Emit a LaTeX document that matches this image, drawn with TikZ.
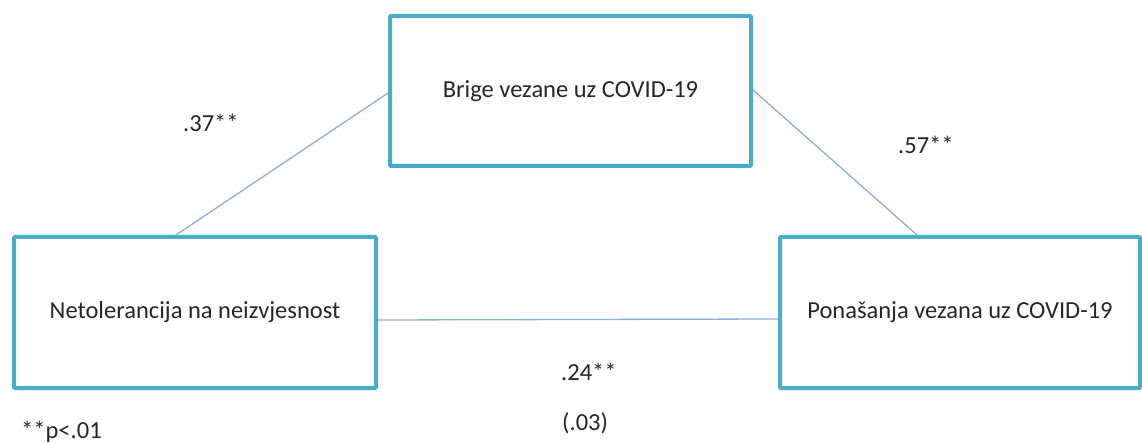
\documentclass[tikz,border=0pt]{standalone}
\usepackage{fontspec}
\setmainfont{Carlito}
\definecolor{boxblue}{HTML}{4BACC6}
\definecolor{linkblue}{HTML}{8EAFDB}
\tikzset{
	var/.style={draw=boxblue, line width=4pt, rectangle, rounded corners=1pt, font=\fontsize{24.5}{29}\selectfont, text=black!85},
	link/.style={draw=linkblue, line width=1.3pt},
	coef/.style={font=\fontsize{24.5}{29}\selectfont, text=black!85, anchor=west, inner sep=0pt}
}

\begin{document}
\begin{tikzpicture}[x=1pt, y=-1pt]
			%%%%% START %%%%%
			\useasboundingbox (0, 0) rectangle (1142, 443);
			
			\node[var, minimum width=361pt, minimum height=150pt] (brige) at (570.5, 91) {Brige vezane uz COVID-19};
			\node[var, minimum width=362pt, minimum height=151pt] (netol) at (195, 312.5) {Netolerancija na neizvjesnost};
			\node[var, minimum width=360pt, minimum height=151pt] (ponas) at (960, 312.5) {Ponašanja vezana uz COVID-19};
			
			\draw[link] ([xshift=-19pt]netol.north) -- ([yshift=-2pt]brige.west);
			\draw[link] ([yshift=1pt]brige.east) -- ([xshift=-43pt]ponas.north);
			\draw[link] ([yshift=-7.5pt]netol.east) -- ([yshift=-6.5pt]ponas.west);
			
			\node[coef] (a) at (183, 123) {.37**};
			\node[coef] (b) at (898, 145) {.57**};
			\node[coef] (c) at (561, 372) {.24**};
			\node[coef] (se) at (562, 423) {(.03)};
			\node[coef] (note) at (21, 432) {**p<.01};
			%%%%% END %%%%%
\end{tikzpicture}
\end{document}
